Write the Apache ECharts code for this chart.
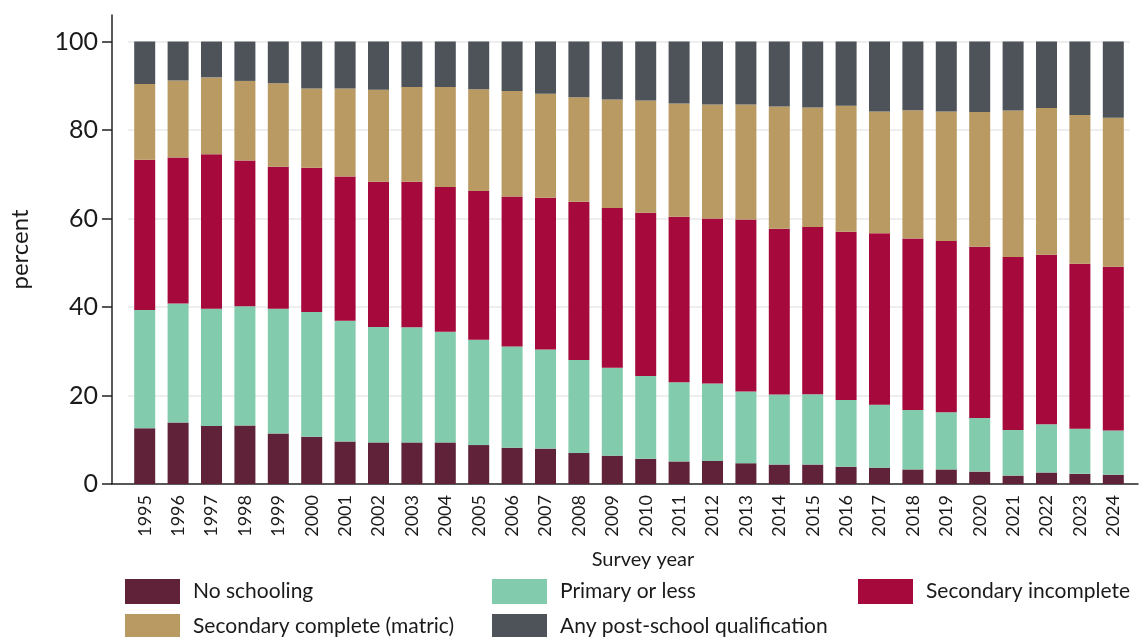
<!DOCTYPE html>
<html>
<head>
<meta charset="utf-8">
<script src="https://cdn.jsdelivr.net/npm/echarts@6/dist/echarts.min.js"></script>
<style>html,body{margin:0;padding:0;background:#fff}#c{width:1140px;height:637px}</style>
</head>
<body>
<div id="c"></div>
<script>
const years = ['1995','1996','1997','1998','1999','2000','2001','2002','2003','2004','2005','2006','2007','2008','2009','2010','2011','2012','2013','2014','2015','2016','2017','2018','2019','2020','2021','2022','2023','2024'];
const noSchooling = [12.6,13.9,13.1,13.2,11.4,10.7,9.6,9.4,9.4,9.4,8.8,8.2,8.0,7.0,6.4,5.7,5.1,5.2,4.7,4.4,4.4,3.9,3.7,3.3,3.3,2.8,1.9,2.6,2.3,2.1];
const primaryOrLess = [26.7,26.9,26.5,27.0,28.2,28.2,27.3,26.1,26.0,25.0,23.8,22.9,22.4,21.0,19.9,18.7,17.9,17.5,16.2,15.8,15.9,15.1,14.2,13.4,12.9,12.1,10.3,10.9,10.2,10.0];
const secondaryIncomplete = [34.0,33.0,34.9,32.9,32.1,32.6,32.6,32.8,32.9,32.7,33.6,33.9,34.3,35.8,36.1,36.9,37.4,37.3,38.9,37.5,37.8,38.0,38.8,38.8,38.7,38.7,39.1,38.3,37.3,37.0];
const secondaryComplete = [17.1,17.4,17.4,18.0,18.9,17.9,19.9,20.8,21.4,22.6,23.0,23.8,23.5,23.6,24.5,25.4,25.6,25.8,26.0,27.6,27.0,28.5,27.5,29.0,29.3,30.5,33.1,33.2,33.6,33.7];
const postSchool = [9.6,8.8,8.1,8.9,9.4,10.6,10.6,10.9,10.3,10.3,10.8,11.2,11.8,12.6,13.1,13.3,14.0,14.2,14.2,14.7,14.9,14.5,15.8,15.5,15.8,15.9,15.6,15.0,16.6,17.2];
const yTicks = [0,20,40,60,80,100];

const names = ['No schooling','Primary or less','Secondary incomplete','Secondary complete (matric)','Any post-school qualification'];
const colors = ['#5F2239','#82CBAC','#A60A3D','#B89A62','#4D5358'];
const values = [noSchooling, primaryOrLess, secondaryIncomplete, secondaryComplete, postSchool];
const legendPos = [[125,579],[492,579],[858,579],[125,614],[492,614]];

const FONT = 'Lato';
const TXT = '#1a1a1a';
const chart = echarts.init(document.getElementById('c'), null, {renderer:'canvas'});
const legendText = {color:TXT, fontSize:21, fontFamily:FONT, padding:[0,0,0,8]};
chart.setOption({
  animation:false,
  color: colors,
  textStyle:{fontFamily:FONT},
  grid:[
    {left:128, right:10, top:15, bottom:153},
    {left:105, right:2, top:15, bottom:153}
  ],
  xAxis:[
    {
      type:'category', data:years, gridIndex:0,
      name:'Survey year', nameLocation:'middle', nameGap:66,
      nameTextStyle:{color:TXT, fontSize:20, fontFamily:FONT, padding:[0,0,0,28]},
      axisLine:{show:false}, axisTick:{show:false}, splitLine:{show:false},
      axisLabel:{interval:0, rotate:90, margin:11, fontSize:18, color:TXT, fontFamily:FONT}
    },
    {
      type:'value', gridIndex:1, min:0, max:1,
      axisLine:{show:true, onZero:false, lineStyle:{color:'#222', width:1.5}},
      axisTick:{show:false}, axisLabel:{show:false}, splitLine:{show:false}
    }
  ],
  yAxis:[
    {
      type:'value', gridIndex:0, min:0, max:106,
      axisLine:{show:false}, axisTick:{show:false}, axisLabel:{show:false},
      splitLine:{show:true, showMinLine:false, showMaxLine:false, lineStyle:{color:'#eeeeee', width:2}}
    },
    {
      type:'value', gridIndex:1, min:0, max:106,
      name:'percent', nameLocation:'middle', nameGap:80,
      nameTextStyle:{color:TXT, fontSize:24, fontFamily:FONT},
      axisLine:{show:true, lineStyle:{color:'#222', width:1.5}},
      axisTick:{show:true, length:10, customValues:yTicks, lineStyle:{color:'#222', width:1.5}},
      axisLabel:{customValues:yTicks, margin:14, fontSize:25, color:TXT, fontFamily:FONT},
      splitLine:{show:false}
    }
  ],
  legend: names.map((n,i)=>({
    orient:'horizontal', left:legendPos[i][0], top:legendPos[i][1], padding:0,
    itemWidth:55, itemHeight:25, icon:'rect', textStyle:legendText,
    selectedMode:false, data:[n]
  })),
  series: names.map((n,i)=>({
    name:n, type:'bar', stack:'total', barWidth:21, xAxisIndex:0, yAxisIndex:0,
    itemStyle:{color:colors[i]},
    data: values[i]
  }))
});
</script>
</body>
</html>
